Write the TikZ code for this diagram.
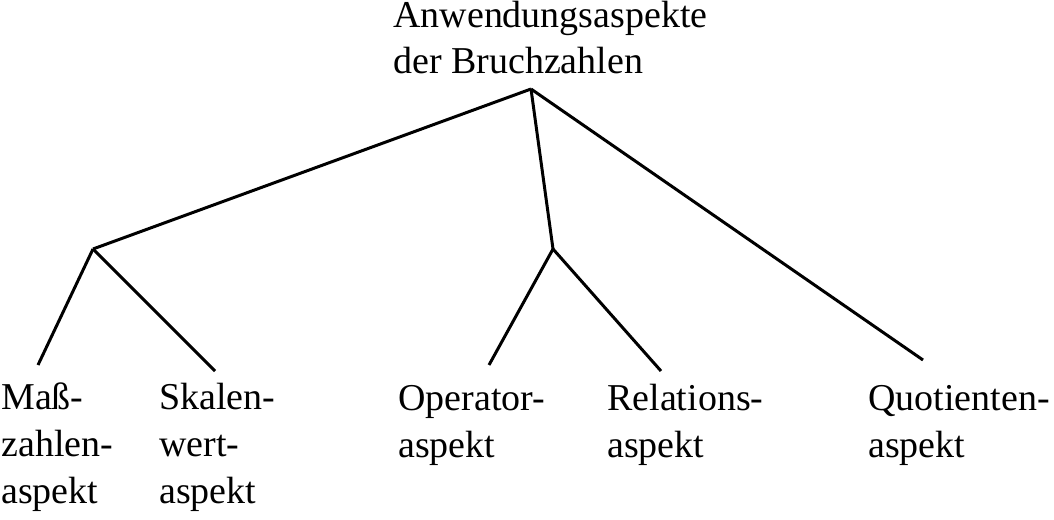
\documentclass[tikz,border=0pt]{standalone}
\usepackage{fontspec}
\setmainfont{Liberation Serif}
\tikzset{
  aspect/.style={anchor=base west, inner sep=0, align=left,
    font=\fontsize{21.6}{26.7}\selectfont},
  branch/.style={line width=1.7pt}
}
\begin{document}
\begin{tikzpicture}[x=0.2mm, y=-0.2mm]
      \useasboundingbox (0,0) rectangle (1054,519);

      % Labels (anchored at the last line)
      \node[aspect] (root) at (393,74) {Anwendungsaspekte\\der Bruchzahlen};
      \node[aspect] (mass) at (1,503) {Maß-\\zahlen-\\aspekt};
      \node[aspect] (skala) at (159,503) {Skalen-\\wert-\\aspekt};
      \node[aspect] (oper) at (398,457) {Operator-\\aspekt};
      \node[aspect] (rel) at (607,457) {Relations-\\aspekt};
      \node[aspect] (quot) at (868,457) {Quotienten-\\aspekt};

      % Branch points
      \coordinate (top) at (531,89);
      \coordinate (left) at (93,249);
      \coordinate (mid) at (553,249);
      \coordinate (massend) at (38,365);
      \coordinate (skalaend) at (215,371);
      \coordinate (operend) at (489,365);
      \coordinate (relend) at (661,371);
      \coordinate (quotend) at (923,360);

      % Tree lines
      \draw[branch] (top) -- (left);
      \draw[branch] (top) -- (mid);
      \draw[branch] (top) -- (quotend);
      \draw[branch] (left) -- (massend);
      \draw[branch] (left) -- (skalaend);
      \draw[branch] (mid) -- (operend);
      \draw[branch] (mid) -- (relend);
    \end{tikzpicture}
\end{document}
